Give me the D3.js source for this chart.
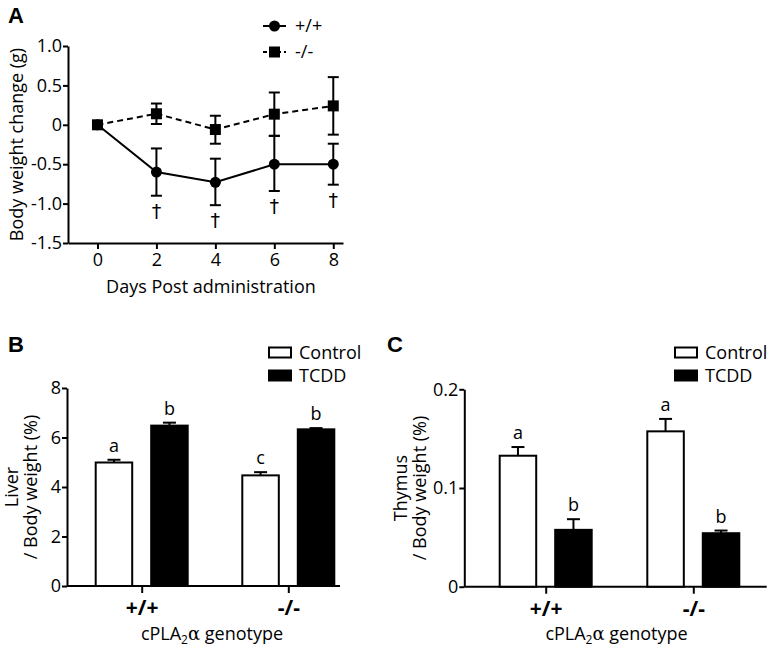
<!DOCTYPE html>
<html><head><meta charset="utf-8">
<script src="https://cdn.jsdelivr.net/npm/d3@7"></script>
<style>
body{margin:0;background:#fff;}
text{font-family:"Open Sans",sans-serif;fill:#000;}
</style></head>
<body><svg id="c" width="771" height="650"></svg>
<script>
// ---------- DATA ----------
// Panel A
const daysA = [0, 2, 4, 6, 8];
const wtMean = [0, -0.60, -0.73, -0.50, -0.50];
const wtUpper = [0, -0.30, -0.43, -0.14, -0.24];
const wtLower = [0, -0.90, -1.02, -0.84, -0.76];
const koMean = [0, 0.14, -0.06, 0.135, 0.24];
const koUpper = [0, 0.27, 0.115, 0.41, 0.605];
const koLower = [0, 0.01, -0.24, -0.14, -0.125];
const daggerDays = [2, 4, 6, 8];
const yTicksA = [1.0, 0.5, 0, -0.5, -1.0, -1.5];
const yTickLabelsA = ["1.0", "0.5", "0", "-0.5", "-1.0", "-1.5"];
const xTicksA = [0, 2, 4, 6, 8];
const seriesNamesA = ["+/+", "-/-"];
// Panels B & C
const genotypes = ["+/+", "-/-"];
const treatments = ["Control", "TCDD"];
const liverMean = [[4.99, 6.48], [4.47, 6.33]];
const liverErr = [[0.11, 0.12], [0.13, 0.05]];
const liverLetters = [["a", "b"], ["c", "b"]];
const liverTicks = [0, 2, 4, 6, 8];
const thymusMean = [[0.1327, 0.0576], [0.1574, 0.0542]];
const thymusErr = [[0.0088, 0.0108], [0.0126, 0.0027]];
const thymusLetters = [["a", "b"], ["a", "b"]];
const thymusTicks = [0, 0.1, 0.2];
const thymusTickLabels = ["0", "0.1", "0.2"];

// ---------- DRAW ----------
const svg = d3.select("#c");
const FS = 18;

// ===== Panel A =====
(function(){
  const x = d3.scaleLinear().domain([-1, 8.33]).range([68, 343]);
  const y = d3.scaleLinear().domain([-1.5, 1.0]).range([243, 46]);
  const g = svg.append("g");
  const ya = g.append("g").attr("transform", `translate(${x(-1)},0)`)
    .call(d3.axisLeft(y).tickValues(yTicksA).tickFormat((d,i)=>yTickLabelsA[i]).tickSize(5).tickSizeOuter(0));
  const xa = g.append("g").attr("transform", `translate(0,${y(-1.5)})`)
    .call(d3.axisBottom(x).tickValues(xTicksA).tickFormat(d3.format("d")).tickSize(6).tickSizeOuter(0));
  [ya, xa].forEach(a => {
    a.selectAll("path,line").attr("stroke", "#000").attr("stroke-width", 2);
    a.selectAll("text").style("font-size", FS + "px").style("font-family", '"Open Sans",sans-serif');
  });
  ya.selectAll("text").attr("x", -6);
  xa.selectAll("text").attr("y", 10);

  g.append("text").attr("x", x(3.85)).attr("y", 293).attr("text-anchor", "middle")
    .style("font-size", FS + "px").text("Days Post administration");
  g.append("text").attr("transform", `translate(23,${y(-0.25)}) rotate(-90)`).attr("text-anchor", "middle")
    .style("font-size", FS + "px").text("Body weight change (g)");

  const line = d3.line().x((d,i)=>x(daysA[i])).y(d=>y(d));
  const capW = 5.5;
  function errBars(upper, lower){
    daysA.forEach((d,i)=>{
      if (upper[i] === lower[i]) return;
      const cx = x(d);
      g.append("line").attr("x1",cx).attr("x2",cx).attr("y1",y(upper[i])).attr("y2",y(lower[i])).attr("stroke","#000").attr("stroke-width",2);
      [upper[i], lower[i]].forEach(v=>g.append("line").attr("x1",cx-capW).attr("x2",cx+capW).attr("y1",y(v)).attr("y2",y(v)).attr("stroke","#000").attr("stroke-width",2));
    });
  }
  errBars(koUpper, koLower);
  errBars(wtUpper, wtLower);
  g.append("path").attr("d", line(koMean)).attr("fill","none").attr("stroke","#000").attr("stroke-width",2).attr("stroke-dasharray","6,4");
  g.append("path").attr("d", line(wtMean)).attr("fill","none").attr("stroke","#000").attr("stroke-width",2);
  g.selectAll(".sq").data(koMean).enter().append("rect")
    .attr("x",(d,i)=>x(daysA[i])-5.5).attr("y",d=>y(d)-5.5).attr("width",11).attr("height",11).attr("fill","#000");
  g.selectAll(".ci").data(wtMean).enter().append("circle")
    .attr("cx",(d,i)=>x(daysA[i])).attr("cy",d=>y(d)).attr("r",5.5).attr("fill","#000");
  daggerDays.forEach(dd=>{
    const i = daysA.indexOf(dd);
    g.append("text").attr("x", x(dd)).attr("y", y(wtLower[i]) + 22).attr("text-anchor","middle")
      .style("font-family","'DejaVu Sans',sans-serif").style("font-size","19px").style("fill","#000").text("\u2020");
  });
  // legend
  const lg = g.append("g");
  seriesNamesA.forEach((nm,i)=>{
    const ly = 26 + i*26;
    lg.append("line").attr("x1",263).attr("x2",286).attr("y1",ly).attr("y2",ly).attr("stroke","#000").attr("stroke-width",2)
      .attr("stroke-dasharray", i ? "4,3" : null);
    if (i===0) lg.append("circle").attr("cx",274.5).attr("cy",ly).attr("r",5.5);
    else lg.append("rect").attr("x",269).attr("y",ly-5.5).attr("width",11).attr("height",11);
    lg.append("text").attr("x",295).attr("y",ly).attr("dy","0.35em").style("font-size",FS + "px").text(nm);
  });
  svg.append("text").attr("x",8).attr("y",23).style("font-family","'Liberation Sans',Arial,sans-serif")
    .style("font-weight","bold").style("font-size","22px").text("A");
})();

// ===== Bar panels =====
function barPanel(o){
  const g = svg.append("g");
  const y = d3.scaleLinear().domain(o.yDomain).range([o.y0, o.yTop]);
  const xg = d3.scalePoint().domain(genotypes).range(o.centers);
  const xs = d3.scaleBand().domain(treatments).range([-47, 47]).paddingInner(0.306);
  const ya = g.append("g").attr("transform",`translate(${o.axisX},0)`)
    .call(d3.axisLeft(y).tickValues(o.ticks).tickFormat((d,i)=>o.tickLabels[i]).tickSize(5).tickSizeOuter(0));
  ya.selectAll("text").attr("x",-6);
  const xa = g.append("g").attr("transform",`translate(0,${o.y0})`)
    .call(d3.axisBottom(xg).tickSize(7).tickSizeOuter(0));
  xa.select(".domain").remove();
  g.append("line").attr("x1",o.axisX).attr("x2",o.axisEnd).attr("y1",o.y0).attr("y2",o.y0).attr("stroke","#000").attr("stroke-width",2);
  [ya, xa].forEach(a=>{
    a.selectAll("path,line").attr("stroke","#000").attr("stroke-width",2);
    a.selectAll("text").style("font-size",FS+"px").style("font-family",'"Open Sans",sans-serif');
  });
  xa.selectAll("text").attr("y",14).style("font-size","21px").style("font-weight","bold");

  genotypes.forEach((gt,gi)=>{
    treatments.forEach((tr,ti)=>{
      const bx = xg(gt) + xs(tr);
      const v = o.mean[gi][ti], e = o.err[gi][ti];
      const cx = bx + xs.bandwidth()/2;
      g.append("line").attr("x1",cx).attr("x2",cx).attr("y1",y(v)).attr("y2",y(v+e)).attr("stroke","#000").attr("stroke-width",2);
      g.append("line").attr("x1",cx-6.5).attr("x2",cx+6.5).attr("y1",y(v+e)).attr("y2",y(v+e)).attr("stroke","#000").attr("stroke-width",2);
      g.append("rect").attr("x",bx+1).attr("y",y(v)).attr("width",xs.bandwidth()-2).attr("height",y(0)-y(v))
        .attr("fill", ti ? "#000" : "#fff").attr("stroke","#000").attr("stroke-width",2);
      g.append("text").attr("x",cx).attr("y",y(v+e)-8).attr("text-anchor","middle").style("font-size",FS+"px").text(o.letters[gi][ti]);
    });
  });
  // x title
  const t = g.append("text").attr("x",(o.centers[0]+o.centers[1])/2 - 3).attr("y",640).attr("text-anchor","middle").style("font-size",FS+"px");
  t.append("tspan").text("cPLA");
  t.append("tspan").attr("dy",4).style("font-size","12px").text("2");
  t.append("tspan").attr("dy",-4).style("font-family","'DejaVu Serif',serif").text("\u03b1");
  t.append("tspan").text(" genotype");
  // y title
  const yt = g.append("text").attr("transform",`translate(${o.titleX},${(o.y0+o.yTop)/2}) rotate(-90)`).attr("text-anchor","middle").style("font-size",FS+"px");
  yt.append("tspan").attr("x",0).attr("y",0).text(o.ytitle1);
  yt.append("tspan").attr("x",0).attr("y",19).text("/ Body weight (%)");
  // legend
  treatments.forEach((tr,i)=>{
    const ly = 352.5 + i*23;
    g.append("rect").attr("x",o.legX).attr("y",ly-5).attr("width",22).attr("height",10)
      .attr("fill", i ? "#000" : "#fff").attr("stroke","#000").attr("stroke-width",2);
    g.append("text").attr("x",o.legX+30).attr("y",ly).attr("dy","0.35em").style("font-size",FS+"px").text(tr);
  });
  svg.append("text").attr("x",o.labelX).attr("y",352).style("font-family","'Liberation Sans',Arial,sans-serif")
    .style("font-weight","bold").style("font-size","22px").text(o.label);
}

barPanel({label:"B", labelX:8, yDomain:[0,8], y0:586, yTop:388, centers:[141.7,288.3], axisX:67, axisEnd:340,
  ticks:liverTicks, tickLabels:liverTicks.map(String), mean:liverMean, err:liverErr, letters:liverLetters,
  ytitle1:"Liver", titleX:18, legX:269});
barPanel({label:"C", labelX:387, yDomain:[0,0.2], y0:586.7, yTop:389.3, centers:[545.7,693.3], axisX:464.3, axisEnd:766.7,
  ticks:thymusTicks, tickLabels:thymusTickLabels, mean:thymusMean, err:thymusErr, letters:thymusLetters,
  ytitle1:"Thymus", titleX:407, legX:675});
</script></body></html>
